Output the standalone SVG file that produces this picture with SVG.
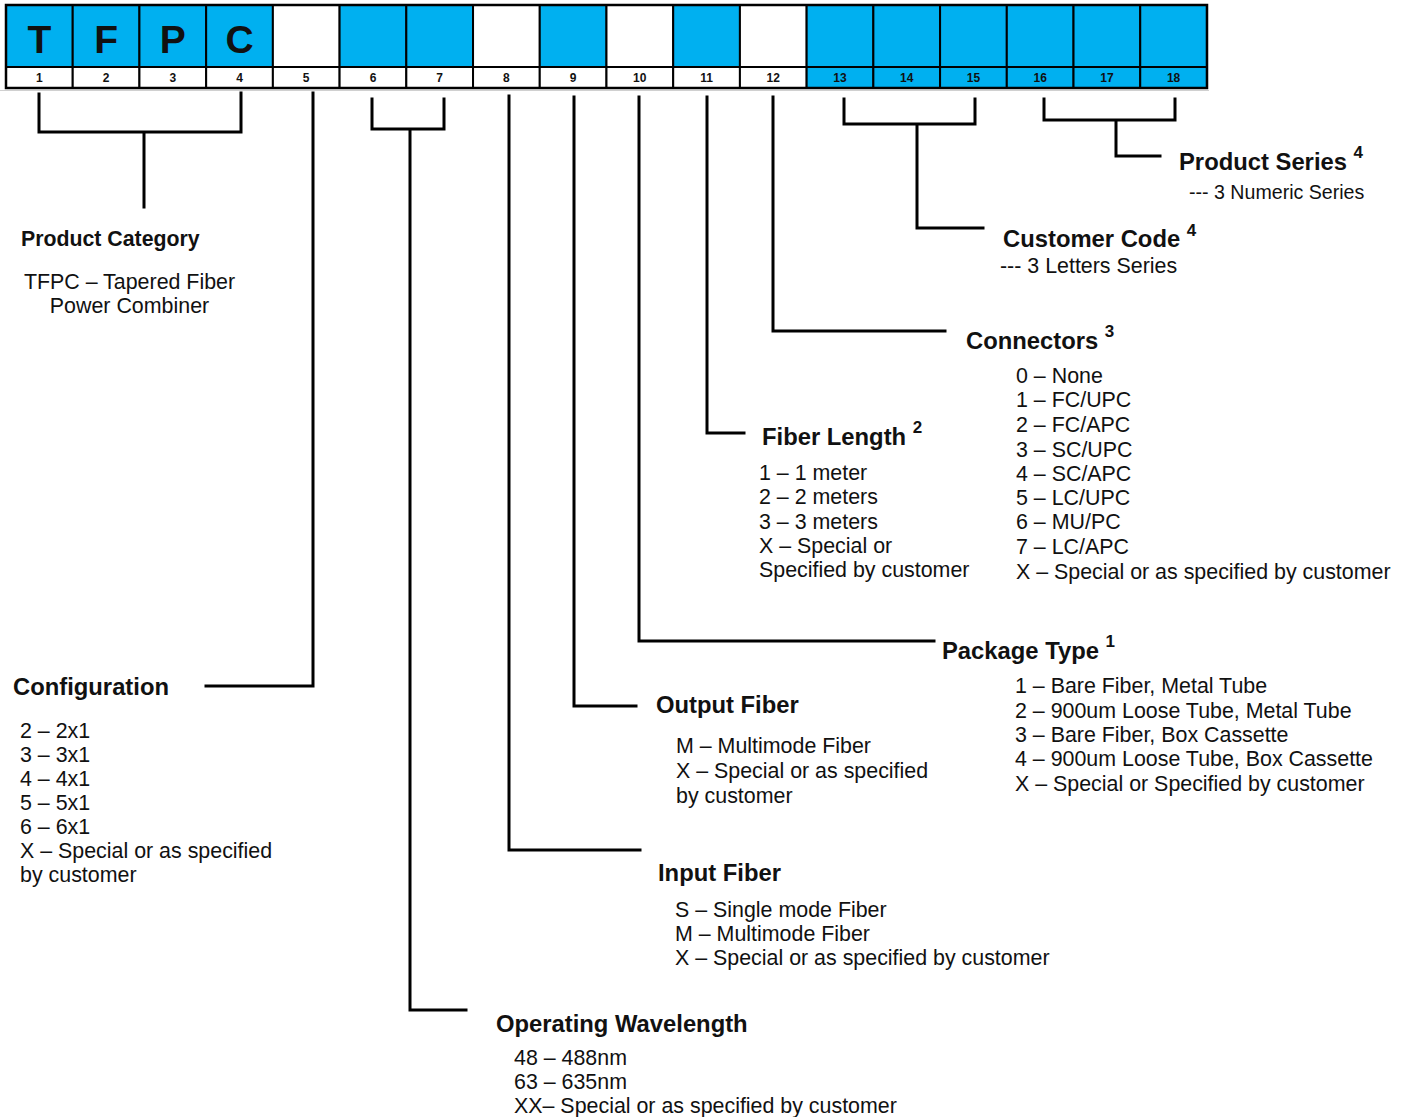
<svg xmlns="http://www.w3.org/2000/svg" width="1407" height="1117" viewBox="0 0 1407 1117">
<style>
.bl{fill:#00b0f0;stroke:#000;stroke-width:2}
.wh{fill:#fff;stroke:#000;stroke-width:2}
.big{font:bold 39px 'Liberation Sans',Arial,sans-serif;text-anchor:middle;fill:#111}
.num{font:bold 12px 'Liberation Sans',Arial,sans-serif;text-anchor:middle;fill:#111}
.h{font:bold 23.8px 'Liberation Sans',Arial,sans-serif;fill:#111}
.b{font:21.4px 'Liberation Sans',Arial,sans-serif;fill:#111}
.sup{font-size:17px}
.ln{stroke:#000;stroke-width:3;fill:none;stroke-linecap:square}
</style>
<rect width="1407" height="1117" fill="#fff"/>
<line x1="0" y1="90.5" x2="1209" y2="90.5" stroke="#d0d0d0" stroke-width="1"/>
<g id="code-bar">
<rect class="bl" x="6" y="5" width="66.72" height="62"/>
<rect class="bl" x="72.72" y="5" width="66.72" height="62"/>
<rect class="bl" x="139.44" y="5" width="66.72" height="62"/>
<rect class="bl" x="206.16" y="5" width="66.72" height="62"/>
<rect class="wh" x="272.88" y="5" width="66.72" height="62"/>
<rect class="bl" x="339.6" y="5" width="66.72" height="62"/>
<rect class="bl" x="406.32" y="5" width="66.72" height="62"/>
<rect class="wh" x="473.04" y="5" width="66.72" height="62"/>
<rect class="bl" x="539.76" y="5" width="66.72" height="62"/>
<rect class="wh" x="606.48" y="5" width="66.72" height="62"/>
<rect class="bl" x="673.2" y="5" width="66.72" height="62"/>
<rect class="wh" x="739.92" y="5" width="66.72" height="62"/>
<rect class="bl" x="806.64" y="5" width="66.72" height="62"/>
<rect class="bl" x="873.36" y="5" width="66.72" height="62"/>
<rect class="bl" x="940.08" y="5" width="66.72" height="62"/>
<rect class="bl" x="1006.8" y="5" width="66.72" height="62"/>
<rect class="bl" x="1073.52" y="5" width="66.72" height="62"/>
<rect class="bl" x="1140.24" y="5" width="66.72" height="62"/>
<rect class="wh" x="6" y="67" width="66.72" height="21"/>
<rect class="wh" x="72.72" y="67" width="66.72" height="21"/>
<rect class="wh" x="139.44" y="67" width="66.72" height="21"/>
<rect class="wh" x="206.16" y="67" width="66.72" height="21"/>
<rect class="wh" x="272.88" y="67" width="66.72" height="21"/>
<rect class="wh" x="339.6" y="67" width="66.72" height="21"/>
<rect class="wh" x="406.32" y="67" width="66.72" height="21"/>
<rect class="wh" x="473.04" y="67" width="66.72" height="21"/>
<rect class="wh" x="539.76" y="67" width="66.72" height="21"/>
<rect class="wh" x="606.48" y="67" width="66.72" height="21"/>
<rect class="wh" x="673.2" y="67" width="66.72" height="21"/>
<rect class="wh" x="739.92" y="67" width="66.72" height="21"/>
<rect class="bl" x="806.64" y="67" width="66.72" height="21"/>
<rect class="bl" x="873.36" y="67" width="66.72" height="21"/>
<rect class="bl" x="940.08" y="67" width="66.72" height="21"/>
<rect class="bl" x="1006.8" y="67" width="66.72" height="21"/>
<rect class="bl" x="1073.52" y="67" width="66.72" height="21"/>
<rect class="bl" x="1140.24" y="67" width="66.72" height="21"/>
<rect x="6" y="5" width="1201" height="83" fill="none" stroke="#000" stroke-width="2.5"/>
<text class="big" x="39.4" y="53">T</text>
<text class="big" x="106.1" y="53">F</text>
<text class="big" x="172.8" y="53">P</text>
<text class="big" x="239.5" y="53">C</text>
<text class="num" x="39.4" y="82">1</text>
<text class="num" x="106.1" y="82">2</text>
<text class="num" x="172.8" y="82">3</text>
<text class="num" x="239.5" y="82">4</text>
<text class="num" x="306.2" y="82">5</text>
<text class="num" x="373" y="82">6</text>
<text class="num" x="439.7" y="82">7</text>
<text class="num" x="506.4" y="82">8</text>
<text class="num" x="573.1" y="82">9</text>
<text class="num" x="639.8" y="82">10</text>
<text class="num" x="706.6" y="82">11</text>
<text class="num" x="773.3" y="82">12</text>
<text class="num" x="840" y="82">13</text>
<text class="num" x="906.7" y="82">14</text>
<text class="num" x="973.4" y="82">15</text>
<text class="num" x="1040.2" y="82">16</text>
<text class="num" x="1106.9" y="82">17</text>
<text class="num" x="1173.6" y="82">18</text>
</g>
<g id="connectors">
<path class="ln" d="M39,94 V132 H241 V93 M144,132 V207"/>
<path class="ln" d="M313,93 V686 H206"/>
<path class="ln" d="M372,99 V129 H444 V99 M410,129 V1010 H466"/>
<path class="ln" d="M509,96 V850 H640"/>
<path class="ln" d="M574,97 V706 H636"/>
<path class="ln" d="M639,97 V641 H934"/>
<path class="ln" d="M707,97 V433 H744"/>
<path class="ln" d="M773,97 V331 H945"/>
<path class="ln" d="M844,99 V124 H975 V99 M917,124 V228 H983"/>
<path class="ln" d="M1044,99 V120 H1175 V99 M1116,120 V156 H1160"/>
</g>
<g id="product-category">
<text class="h" x="21" y="246" style="font-size:21.3px">Product Category</text>
<text class="b" x="129.5" y="289" text-anchor="middle">TFPC – Tapered Fiber</text>
<text class="b" x="129.5" y="313" text-anchor="middle">Power Combiner</text>
</g>
<g id="configuration">
<text class="h" x="13" y="695">Configuration</text>
<text class="b" x="20" y="738">2 – 2x1</text>
<text class="b" x="20" y="762">3 – 3x1</text>
<text class="b" x="20" y="786">4 – 4x1</text>
<text class="b" x="20" y="810">5 – 5x1</text>
<text class="b" x="20" y="834">6 – 6x1</text>
<text class="b" x="20" y="858">X – Special or as specified</text>
<text class="b" x="20" y="882">by customer</text>
</g>
<g id="operating-wavelength">
<text class="h" x="496" y="1032">Operating Wavelength</text>
<text class="b" x="514" y="1065">48 – 488nm</text>
<text class="b" x="514" y="1089">63 – 635nm</text>
<text class="b" x="514" y="1113">XX– Special or as specified by customer</text>
</g>
<g id="input-fiber">
<text class="h" x="658" y="881">Input Fiber</text>
<text class="b" x="675" y="917">S – Single mode Fiber</text>
<text class="b" x="675" y="941">M – Multimode Fiber</text>
<text class="b" x="675" y="965">X – Special or as specified by customer</text>
</g>
<g id="output-fiber">
<text class="h" x="656" y="713">Output Fiber</text>
<text class="b" x="676" y="753">M – Multimode Fiber</text>
<text class="b" x="676" y="778">X – Special or as specified</text>
<text class="b" x="676" y="803">by customer</text>
</g>
<g id="package-type">
<text class="h" x="942" y="659">Package Type <tspan class="sup" dy="-12">1</tspan></text>
<text class="b" x="1015" y="693">1 – Bare Fiber, Metal Tube</text>
<text class="b" x="1015" y="718">2 – 900um Loose Tube, Metal Tube</text>
<text class="b" x="1015" y="742">3 – Bare Fiber, Box Cassette</text>
<text class="b" x="1015" y="766">4 – 900um Loose Tube, Box Cassette</text>
<text class="b" x="1015" y="791">X – Special or Specified by customer</text>
</g>
<g id="fiber-length">
<text class="h" x="762" y="445">Fiber Length <tspan class="sup" dy="-12">2</tspan></text>
<text class="b" x="759" y="480">1 – 1 meter</text>
<text class="b" x="759" y="504">2 – 2 meters</text>
<text class="b" x="759" y="529">3 – 3 meters</text>
<text class="b" x="759" y="553">X – Special or</text>
<text class="b" x="759" y="577">Specified by customer</text>
</g>
<g id="connectors-code">
<text class="h" x="966" y="349">Connectors <tspan class="sup" dy="-12">3</tspan></text>
<text class="b" x="1016" y="383">0 – None</text>
<text class="b" x="1016" y="407">1 – FC/UPC</text>
<text class="b" x="1016" y="432">2 – FC/APC</text>
<text class="b" x="1016" y="457">3 – SC/UPC</text>
<text class="b" x="1016" y="481">4 – SC/APC</text>
<text class="b" x="1016" y="505">5 – LC/UPC</text>
<text class="b" x="1016" y="529">6 – MU/PC</text>
<text class="b" x="1016" y="554">7 – LC/APC</text>
<text class="b" x="1016" y="579">X – Special or as specified by customer</text>
</g>
<g id="customer-code">
<text class="h" x="1003" y="247">Customer Code <tspan class="sup" dy="-11">4</tspan></text>
<text class="b" x="1000" y="273">--- 3 Letters Series</text>
</g>
<g id="product-series">
<text class="h" x="1179" y="170">Product Series <tspan class="sup" dy="-12">4</tspan></text>
<text class="b" x="1189" y="199" style="font-size:19.6px">--- 3 Numeric Series</text>
</g>
</svg>
